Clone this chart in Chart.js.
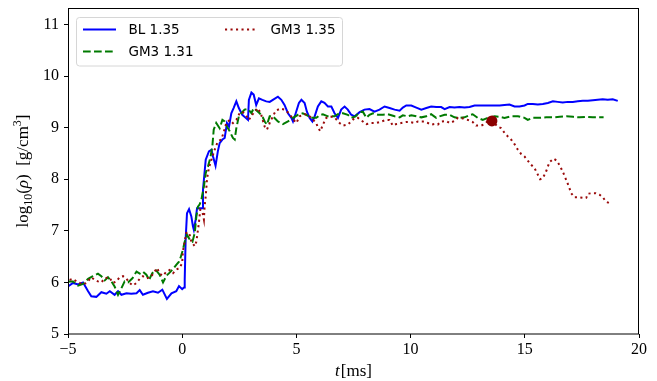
<!DOCTYPE html>
<html>
<head>
<meta charset="utf-8">
<script src="https://cdn.jsdelivr.net/npm/chart.js@4/dist/chart.umd.min.js"></script>
<style>
html,body{margin:0;padding:0;background:#fff;}
canvas{display:block;}
</style>
</head>
<body>
<canvas id="c" width="657" height="381"></canvas>
<script>
// ---- data (t in ms, log10 rho) ----
const blT = [-5.0,-4.78,-4.56,-4.34,-4.12,-3.98,-3.76,-3.54,-3.32,-3.17,-2.96,-2.81,-2.66,-2.44,-2.23,-2.0,-1.86,-1.72,-1.5,-1.28,-1.06,-0.87,-0.67,-0.47,-0.26,-0.14,0.0,0.08,0.11,0.15,0.21,0.30,0.40,0.47,0.51,0.59,0.65,0.79,0.88,0.91,0.95,1.03,1.17,1.28,1.35,1.46,1.56,1.64,1.76,1.86,1.96,2.05,2.15,2.25,2.37,2.48,2.63,2.78,2.88,2.92,3.03,3.13,3.24,3.36,3.51,3.68,3.83,3.97,4.19,4.34,4.48,4.63,4.78,4.85,4.97,5.11,5.22,5.36,5.46,5.58,5.70,5.80,5.94,6.09,6.23,6.38,6.53,6.67,6.82,6.96,7.11,7.25,7.40,7.55,7.77,7.98,8.20,8.42,8.64,8.86,9.08,9.30,9.52,9.66,9.81,10.03,10.25,10.47,10.69,10.90,11.12,11.34,11.49,11.71,11.92,12.14,12.36,12.58,12.80,13.02,13.24,13.46,13.68,13.90,14.11,14.33,14.55,14.77,14.99,15.13,15.35,15.57,15.79,16.01,16.23,16.44,16.66,16.88,17.10,17.32,17.54,17.76,17.98,18.19,18.41,18.63,18.85,19.07];
const blY = [5.92,5.99,5.96,6.00,5.83,5.73,5.72,5.81,5.78,5.83,5.76,5.83,5.76,5.79,5.78,5.79,5.85,5.76,5.80,5.83,5.80,5.86,5.68,5.79,5.83,5.93,5.87,5.90,6.05,6.83,7.34,7.42,7.28,7.09,7.02,7.22,7.44,7.44,7.44,7.80,7.99,8.38,8.54,8.57,8.44,8.26,8.54,8.70,8.77,8.80,9.09,9.02,9.28,9.38,9.51,9.38,9.25,9.19,9.15,9.54,9.68,9.64,9.44,9.57,9.54,9.51,9.50,9.54,9.60,9.54,9.44,9.28,9.19,9.12,9.28,9.48,9.54,9.48,9.31,9.19,9.12,9.22,9.41,9.51,9.48,9.41,9.41,9.28,9.19,9.35,9.41,9.35,9.25,9.22,9.30,9.35,9.36,9.31,9.35,9.41,9.38,9.35,9.33,9.39,9.43,9.43,9.39,9.35,9.38,9.41,9.40,9.40,9.36,9.40,9.39,9.40,9.39,9.40,9.43,9.43,9.43,9.43,9.43,9.43,9.44,9.45,9.41,9.41,9.43,9.46,9.46,9.45,9.46,9.48,9.51,9.50,9.49,9.50,9.50,9.51,9.52,9.52,9.53,9.54,9.55,9.54,9.55,9.52];

const gm131T = [-5.0,-4.78,-4.56,-4.34,-4.12,-3.91,-3.69,-3.54,-3.39,-3.25,-3.10,-2.96,-2.81,-2.66,-2.52,-2.37,-2.18,-2.0,-1.86,-1.72,-1.57,-1.45,-1.31,-1.13,-0.99,-0.84,-0.69,-0.55,-0.40,-0.26,-0.14,-0.08,0.03,0.11,0.21,0.33,0.45,0.55,0.62,0.69,0.76,0.84,0.88,0.95,1.03,1.13,1.23,1.32,1.38,1.49,1.64,1.76,1.86,1.96,2.08,2.22,2.30,2.37,2.48,2.59,2.73,2.88,3.03,3.13,3.27,3.39,3.51,3.61,3.71,3.83,3.97,4.19,4.41,4.63,4.85,5.07,5.28,5.43,5.65,5.87,6.01,6.16,6.38,6.53,6.67,6.89,7.04,7.25,7.40,7.59,7.77,7.91,8.06,8.20,8.35,8.57,8.79,9.01,9.30,9.52,9.66,9.88,10.03,10.25,10.47,10.69,10.90,11.12,11.27,11.49,11.71,11.92,12.14,12.36,12.58,12.72,12.94,13.16,13.38,13.68,13.90,14.11,14.40,14.70,14.99,15.13,15.35,15.65,15.94,16.23,16.53,16.82,17.12,17.41,17.70,17.98,18.27,18.45];
const gm131Y = [6.02,6.02,5.94,5.97,6.07,6.12,6.17,6.12,6.04,6.10,6.02,5.92,5.76,5.89,6.02,6.00,6.08,6.21,6.17,6.21,6.15,6.05,6.18,6.23,6.15,6.00,6.13,6.19,6.26,6.34,6.40,6.47,6.63,6.79,6.92,6.83,6.79,6.96,7.28,7.47,7.51,7.60,7.70,7.86,8.12,8.25,8.41,8.64,8.96,9.09,8.99,9.15,9.12,9.02,8.93,8.80,8.77,8.99,9.22,9.28,9.35,9.36,9.28,9.38,9.33,9.28,9.22,9.12,9.06,9.22,9.22,9.12,9.07,9.12,9.19,9.25,9.28,9.25,9.19,9.19,9.24,9.26,9.22,9.22,9.22,9.28,9.28,9.25,9.19,9.22,9.30,9.31,9.19,9.25,9.28,9.25,9.25,9.26,9.22,9.20,9.24,9.22,9.24,9.22,9.20,9.22,9.26,9.19,9.22,9.25,9.25,9.20,9.19,9.20,9.24,9.26,9.19,9.15,9.19,9.22,9.21,9.19,9.22,9.22,9.19,9.15,9.19,9.19,9.20,9.20,9.21,9.22,9.21,9.20,9.21,9.20,9.20,9.20];

const gm135T = [-4.93,-4.78,-4.63,-4.49,-4.34,-4.19,-3.98,-3.83,-3.69,-3.54,-3.39,-3.20,-3.03,-2.88,-2.74,-2.59,-2.44,-2.30,-2.16,-2.0,-1.86,-1.72,-1.57,-1.39,-1.25,-1.10,-0.99,-0.84,-0.69,-0.55,-0.40,-0.26,-0.11,0.0,0.03,0.11,0.18,0.30,0.40,0.55,0.62,0.73,0.79,0.88,0.95,0.98,1.03,1.09,1.17,1.28,1.42,1.56,1.71,1.81,1.93,2.08,2.22,2.37,2.51,2.63,2.78,2.92,3.07,3.17,3.32,3.46,3.61,3.71,3.83,3.97,4.10,4.30,4.48,4.67,4.92,5.0,5.14,5.36,5.50,5.65,5.87,5.94,6.05,6.16,6.31,6.45,6.67,6.89,7.04,7.25,7.40,7.55,7.69,7.91,8.06,8.28,8.50,8.72,8.93,9.08,9.22,9.37,9.59,9.81,9.95,10.17,10.32,10.54,10.76,10.90,11.05,11.19,11.34,11.56,11.71,11.92,12.07,12.29,12.51,12.72,12.87,13.09,13.24,13.38,13.56,13.82,13.97,14.11,14.26,14.40,14.55,14.70,14.84,14.99,15.13,15.28,15.42,15.57,15.67,15.79,15.94,16.08,16.26,16.40,16.55,16.69,16.81,16.93,17.03,17.18,17.36,17.54,17.69,17.76,17.95,18.10,18.27,18.42,18.54,18.68];
const gm135Y = [6.05,6.07,6.02,5.99,5.96,5.99,6.10,6.05,6.02,6.00,6.08,6.10,5.99,6.02,6.10,6.12,6.07,5.99,5.94,5.99,6.07,6.12,6.08,6.10,6.18,6.28,6.17,6.13,6.21,6.24,6.18,6.25,6.28,6.38,6.60,6.79,6.96,6.97,6.79,6.70,6.79,7.15,7.41,7.38,7.22,7.47,7.67,8.02,8.22,8.38,8.57,8.73,8.77,8.90,9.09,9.15,9.09,9.15,9.28,9.31,9.25,9.15,9.25,9.31,9.38,9.25,9.02,8.96,9.09,9.22,9.33,9.37,9.35,9.28,9.13,9.09,9.22,9.26,9.25,9.19,9.09,9.00,8.93,9.06,9.19,9.22,9.20,9.09,9.04,9.06,9.12,9.19,9.19,9.12,9.07,9.09,9.09,9.12,9.15,9.15,9.04,9.07,9.09,9.11,9.11,9.09,9.12,9.12,9.09,9.06,9.07,9.06,9.12,9.13,9.09,9.13,9.19,9.18,9.15,9.11,9.04,9.04,9.07,9.13,9.13,9.02,8.99,8.90,8.83,8.77,8.68,8.57,8.49,8.44,8.36,8.28,8.22,8.09,8.00,8.02,8.16,8.33,8.40,8.36,8.25,8.12,7.99,7.86,7.73,7.65,7.65,7.64,7.64,7.72,7.73,7.73,7.70,7.65,7.57,7.54];

const collapseT = [13.56];
const collapseY = [9.13];

const seriesLabels = ['BL 1.35', 'GM3 1.31', 'GM3 1.35'];
const xTicks = [-5, 0, 5, 10, 15, 20];
const yTicks = [5, 6, 7, 8, 9, 10, 11];
const xRange = [-5, 20];
const yRange = [5, 11.32];

function pts(t, y) { return t.map((v, i) => ({ x: v, y: y[i] })); }

const SERIF = '"Liberation Serif", "DejaVu Serif", serif';
const SANS = '"DejaVu Sans", sans-serif';

const decor = {
  id: 'decor',
  afterDraw(chart) {
    const ctx = chart.ctx, a = chart.chartArea;
    ctx.save();
    // spines
    ctx.strokeStyle = '#000';
    ctx.lineWidth = 1;
    ctx.strokeRect(a.left + 0.5, a.top + 0.5, a.right - a.left - 1, a.bottom - a.top - 0.5);

    // legend
    const L = 76.5, T = 17.5, R = 342.5, B = 66, r = 3;
    ctx.beginPath();
    ctx.moveTo(L + r, T); ctx.lineTo(R - r, T); ctx.quadraticCurveTo(R, T, R, T + r);
    ctx.lineTo(R, B - r); ctx.quadraticCurveTo(R, B, R - r, B);
    ctx.lineTo(L + r, B); ctx.quadraticCurveTo(L, B, L, B - r);
    ctx.lineTo(L, T + r); ctx.quadraticCurveTo(L, T, L + r, T);
    ctx.closePath();
    ctx.fillStyle = 'rgba(255,255,255,0.8)';
    ctx.fill();
    ctx.strokeStyle = '#d6d6d6';
    ctx.lineWidth = 1;
    ctx.stroke();

    const entries = [
      { ds: 0, x: 83, y: 29.5 },
      { ds: 1, x: 83, y: 51.5 },
      { ds: 2, x: 225, y: 29.5 }
    ];
    ctx.font = '13.5px ' + SANS;
    ctx.textBaseline = 'middle';
    ctx.textAlign = 'left';
    entries.forEach(e => {
      const d = chart.data.datasets[e.ds];
      ctx.beginPath();
      ctx.setLineDash(d.borderDash || []);
      ctx.strokeStyle = d.borderColor;
      ctx.lineWidth = d.borderWidth;
      ctx.moveTo(e.x, e.y); ctx.lineTo(e.x + 33, e.y);
      ctx.stroke();
      ctx.setLineDash([]);
      ctx.fillStyle = '#000';
      ctx.fillText(d.label, e.x + 45.5, e.y + 0.5);
    });

    // axis titles
    ctx.fillStyle = '#000';
    ctx.textBaseline = 'alphabetic';
    const cx = (a.left + a.right) / 2;
    ctx.font = 'italic 17px ' + SERIF;
    const wt = ctx.measureText('t').width;
    ctx.font = '17px ' + SERIF;
    const wm = ctx.measureText('[ms]').width;
    let x0 = cx - (wt + wm + 1) / 2;
    ctx.font = 'italic 17px ' + SERIF;
    ctx.fillText('t', x0, 376);
    ctx.font = '17px ' + SERIF;
    ctx.fillText('[ms]', x0 + wt + 1, 376);

    const parts = [
      { s: 'log', f: '17px ' + SERIF, dy: 0 },
      { s: '10', f: '12px ' + SERIF, dy: 4 },
      { s: '(', f: '17px ' + SERIF, dy: 0 },
      { s: 'ρ', f: 'italic 17px ' + SERIF, dy: 0 },
      { s: ')  [g/cm', f: '17px ' + SERIF, dy: 0 },
      { s: '3', f: '12px ' + SERIF, dy: -7 },
      { s: ']', f: '17px ' + SERIF, dy: 0 }
    ];
    let tw = 0;
    parts.forEach(p => { ctx.font = p.f; p.w = ctx.measureText(p.s).width; tw += p.w; });
    ctx.translate(28, (a.top + a.bottom) / 2);
    ctx.rotate(-Math.PI / 2);
    let px = -tw / 2;
    parts.forEach(p => { ctx.font = p.f; ctx.fillText(p.s, px, p.dy); px += p.w; });
    ctx.restore();
  }
};

new Chart(document.getElementById('c'), {
  type: 'scatter',
  data: {
    datasets: [
      { label: seriesLabels[0], data: pts(blT, blY), showLine: true, borderColor: '#0000ff', borderWidth: 2, pointRadius: 0, tension: 0, order: 3 },
      { label: seriesLabels[1], data: pts(gm131T, gm131Y), showLine: true, borderColor: '#007a00', borderWidth: 2, borderDash: [7.7, 3.3], pointRadius: 0, tension: 0, order: 2 },
      { label: seriesLabels[2], data: pts(gm135T, gm135Y), showLine: true, borderColor: '#9a0a0a', borderWidth: 2, borderDash: [2.1, 3.4], pointRadius: 0, tension: 0, order: 1 },
      { label: 'collapse', data: pts(collapseT, collapseY), showLine: false, pointRadius: 5.5, pointBackgroundColor: '#8b0000', pointBorderColor: '#8b0000', borderWidth: 0, order: 0 }
    ]
  },
  options: {
    responsive: false,
    animation: false,
    devicePixelRatio: 1,
    layout: { padding: { left: 0, right: 18, top: 8, bottom: 0 } },
    plugins: { legend: { display: false }, tooltip: { enabled: false } },
    scales: {
      x: {
        type: 'linear', min: xRange[0], max: xRange[1],
        afterFit(s) { s.height = 47; s.paddingLeft = 0; s.paddingRight = 0; },
        afterBuildTicks(s) { s.ticks = xTicks.map(v => ({ value: v })); },
        border: { display: false },
        grid: { drawOnChartArea: false, drawTicks: true, tickLength: 4, tickColor: '#000', tickWidth: 1 },
        ticks: { color: '#000', font: { family: SERIF, size: 16 }, padding: 2, maxRotation: 0,
          callback: v => (v < 0 ? '\u2212' + Math.abs(v) : String(v)) }
      },
      y: {
        type: 'linear', min: yRange[0], max: yRange[1],
        afterFit(s) { s.width = 68; s.paddingTop = 0; s.paddingBottom = 0; },
        afterBuildTicks(s) { s.ticks = yTicks.map(v => ({ value: v })); },
        border: { display: false },
        grid: { drawOnChartArea: false, drawTicks: true, tickLength: 4, tickColor: '#000', tickWidth: 1 },
        ticks: { color: '#000', font: { family: SERIF, size: 16 }, padding: 5,
          callback: v => String(v) }
      }
    }
  },
  plugins: [decor]
});
</script>
</body>
</html>
